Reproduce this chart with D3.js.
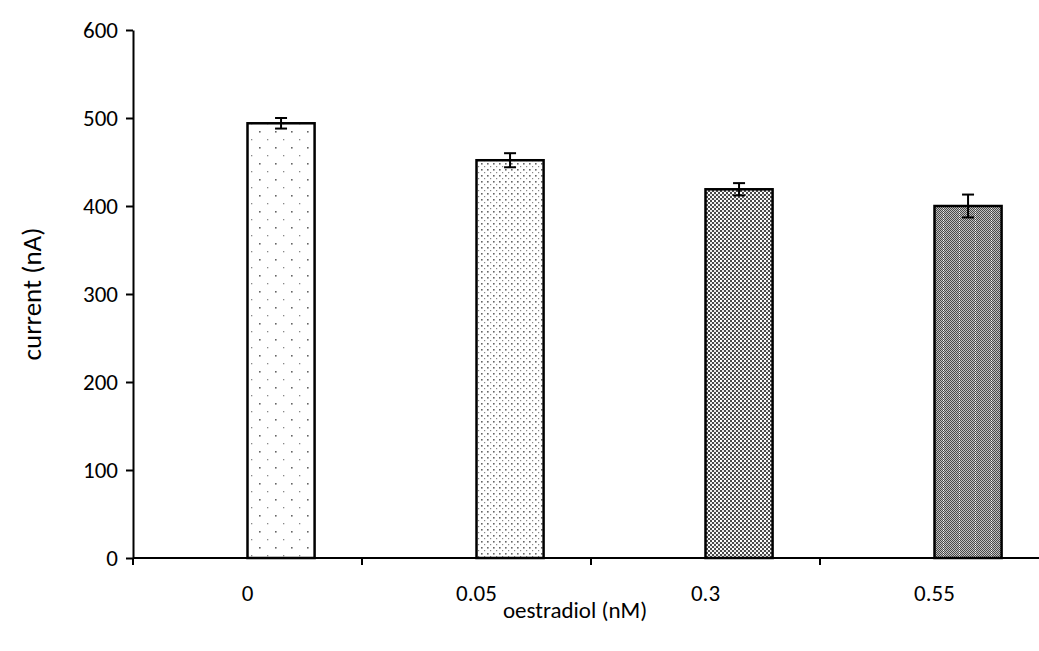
<!DOCTYPE html>
<html>
<head>
<meta charset="utf-8">
<script src="https://cdn.jsdelivr.net/npm/d3@7"></script>
<style>
  body { margin: 0; background: #fff; }
  text { font-family: Carlito, Calibri, "Open Sans", sans-serif; fill: #000; }
</style>
</head>
<body>
<svg id="chart" width="1039" height="651"></svg>
<script>
// data
const categories = ["0", "0.05", "0.3", "0.55"];
const currents = [494, 452, 419, 400];
const errors = [6, 8, 7, 13];
const yTicks = [0, 100, 200, 300, 400, 500, 600];
const patternIds = ["p5", "p20", "p50", "p70"];

const svg = d3.select("#chart");
const plotLeft = 133, plotTop = 30, plotBottom = 558, step = 229;
const fontSize = 23;

const x = d3.scaleBand().domain(categories).range([plotLeft, plotLeft + step * categories.length]).padding(0);
const y = d3.scaleLinear().domain([0, 600]).range([plotBottom, plotTop]);
const barW = x.bandwidth() * 0.293;

// fill patterns (rough imitations of excel's hatch fills)
const defs = svg.append("defs");

const p5 = defs.append("pattern").attr("id", "p5").attr("patternUnits", "userSpaceOnUse")
    .attr("width", 16).attr("height", 16);
p5.append("rect").attr("width", 16).attr("height", 16).attr("fill", "#fff");
p5.append("rect").attr("x", 3).attr("y", 3).attr("width", 1.6).attr("height", 1.6).attr("fill", "#666");
p5.append("rect").attr("x", 11).attr("y", 11).attr("width", 1.3).attr("height", 1.3).attr("fill", "#888");

const p20 = defs.append("pattern").attr("id", "p20").attr("patternUnits", "userSpaceOnUse")
    .attr("width", 6).attr("height", 6);
p20.append("rect").attr("width", 6).attr("height", 6).attr("fill", "#fff");
p20.append("rect").attr("x", 1).attr("y", 1).attr("width", 1.6).attr("height", 1.6).attr("fill", "#666");
p20.append("rect").attr("x", 4).attr("y", 4).attr("width", 1.2).attr("height", 1.2).attr("fill", "#888");

const p50 = defs.append("pattern").attr("id", "p50").attr("patternUnits", "userSpaceOnUse")
    .attr("width", 4).attr("height", 4);
p50.append("rect").attr("width", 4).attr("height", 4).attr("fill", "#4a4a4a");
p50.append("rect").attr("x", 0).attr("y", 0).attr("width", 2).attr("height", 2).attr("fill", "#fff");
p50.append("rect").attr("x", 2).attr("y", 2).attr("width", 2).attr("height", 2).attr("fill", "#e8e8e8");

const p70 = defs.append("pattern").attr("id", "p70").attr("patternUnits", "userSpaceOnUse")
    .attr("width", 16).attr("height", 2);
p70.append("rect").attr("width", 16).attr("height", 2).attr("fill", "#c0c0c0");
for (let i = 0; i < 16; i += 2) {
    p70.append("rect").attr("x", i).attr("y", 0).attr("width", 1).attr("height", 1).attr("fill", "#4a4a4a");
    p70.append("rect").attr("x", i + 1).attr("y", 1).attr("width", 1).attr("height", 1).attr("fill", "#4a4a4a");
}
p70.append("rect").attr("x", 15).attr("y", 0).attr("width", 1).attr("height", 1).attr("fill", "#f4f4f4");

// bars
svg.selectAll(".bar")
    .data(categories)
    .join("rect")
    .attr("class", "bar")
    .attr("x", d => x(d) + x.bandwidth() / 2)
    .attr("y", (d, i) => y(currents[i]))
    .attr("width", barW)
    .attr("height", (d, i) => y(0) - y(currents[i]))
    .attr("fill", (d, i) => `url(#${patternIds[i]})`)
    .attr("stroke", "#000")
    .attr("stroke-width", 2.5);

// error bars
const eb = svg.selectAll(".err")
    .data(categories)
    .join("g")
    .attr("class", "err")
    .attr("stroke", "#000")
    .attr("stroke-width", 2);
const cx = d => x(d) + x.bandwidth() / 2 + barW / 2;
eb.append("line")
    .attr("x1", cx).attr("x2", cx)
    .attr("y1", (d, i) => y(currents[i] + errors[i]))
    .attr("y2", (d, i) => y(currents[i] - errors[i]));
eb.append("line")
    .attr("x1", d => cx(d) - 6).attr("x2", d => cx(d) + 6)
    .attr("y1", (d, i) => y(currents[i] + errors[i]))
    .attr("y2", (d, i) => y(currents[i] + errors[i]));
eb.append("line")
    .attr("x1", d => cx(d) - 6).attr("x2", d => cx(d) + 6)
    .attr("y1", (d, i) => y(currents[i] - errors[i]))
    .attr("y2", (d, i) => y(currents[i] - errors[i]));

// y axis
const yAxis = svg.append("g")
    .attr("transform", `translate(${plotLeft},0)`)
    .call(d3.axisLeft(y).tickValues(yTicks).tickSize(7).tickSizeOuter(0).tickPadding(8));
yAxis.attr("font-size", null).attr("font-family", null);
yAxis.select(".domain").attr("stroke-width", 2);
yAxis.selectAll(".tick line").attr("stroke-width", 2);
yAxis.selectAll(".tick text").style("font-size", fontSize + "px").attr("fill", "#000");

// x axis: ticks sit on the category boundaries
const bounds = d3.range(categories.length + 1).map(i => plotLeft + step * i);
const xAxis = svg.append("g");
xAxis.append("line")
    .attr("x1", plotLeft).attr("x2", bounds[bounds.length - 1])
    .attr("y1", plotBottom).attr("y2", plotBottom)
    .attr("stroke", "#000").attr("stroke-width", 2);
xAxis.selectAll(".xt")
    .data(bounds)
    .join("line")
    .attr("x1", d => d).attr("x2", d => d)
    .attr("y1", plotBottom).attr("y2", plotBottom + 7)
    .attr("stroke", "#000").attr("stroke-width", 2);
xAxis.selectAll(".xl")
    .data(categories)
    .join("text")
    .attr("x", d => x(d) + x.bandwidth() / 2)
    .attr("y", plotBottom + 43)
    .attr("text-anchor", "middle")
    .style("font-size", fontSize + "px")
    .text(d => d);

// axis titles
svg.append("text")
    .attr("x", 575).attr("y", 618)
    .attr("text-anchor", "middle")
    .style("font-size", fontSize + "px")
    .text("oestradiol (nM)");
svg.append("text")
    .attr("transform", "translate(41,294) rotate(-90)")
    .attr("text-anchor", "middle")
    .style("font-size", "27px")
    .text("current (nA)");
</script>
</body>
</html>
